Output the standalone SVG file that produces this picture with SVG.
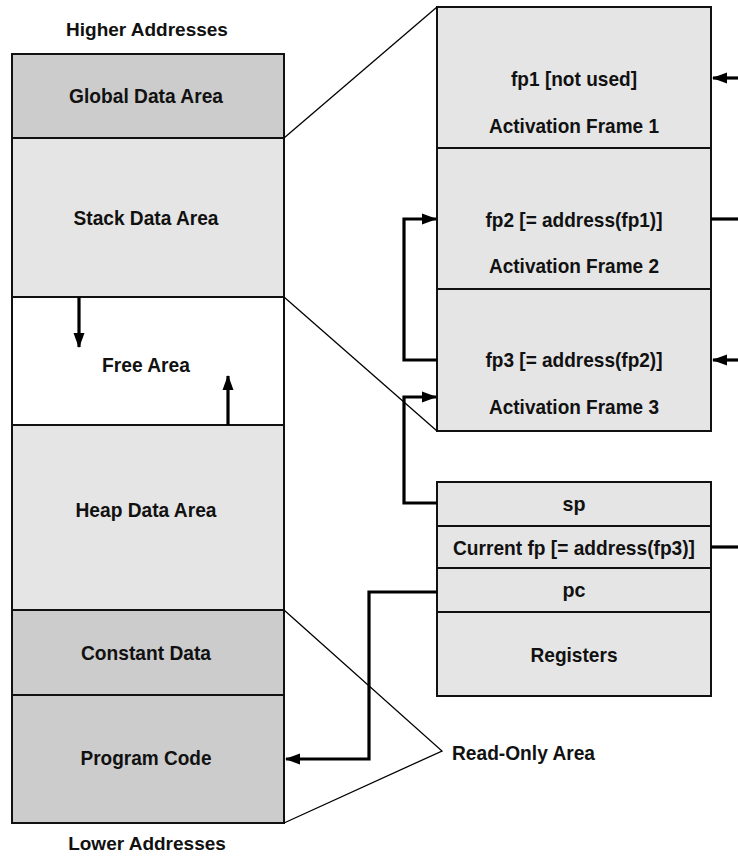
<svg xmlns="http://www.w3.org/2000/svg" width="738" height="857" viewBox="0 0 738 857">
<style>
text{font-family:"Liberation Sans",Arial,sans-serif;font-weight:bold;font-size:21px;fill:#111;text-anchor:middle}
.out{font-size:19px}
.dark{fill:#cccccc;stroke:#111;stroke-width:2}
.light{fill:#e5e5e5;stroke:#111;stroke-width:2}
.white{fill:#ffffff;stroke:#111;stroke-width:2}
.conn{fill:none;stroke:#000;stroke-width:3.2}
.thin{fill:none;stroke:#000;stroke-width:1.3}
</style>
<defs>
<marker id="ah" markerUnits="userSpaceOnUse" markerWidth="15" markerHeight="12" refX="14" refY="6" orient="auto">
<path d="M0,0.5 L15,6 L0,11.5 z" fill="#000"/>
</marker>
</defs>
<text class="out" x="147" y="36">Higher Addresses</text>
<text class="out" x="147" y="850">Lower Addresses</text>
<g id="global"><rect class="dark" x="12" y="54" width="272" height="84"/><text x="146" y="103" textLength="154" lengthAdjust="spacingAndGlyphs">Global Data Area</text></g>
<g id="stack"><rect class="light" x="12" y="138" width="272" height="159"/><text x="146" y="225" textLength="145" lengthAdjust="spacingAndGlyphs">Stack Data Area</text></g>
<g id="free"><rect class="white" x="12" y="297" width="272" height="128"/><text x="146" y="372" textLength="88" lengthAdjust="spacingAndGlyphs">Free Area</text></g>
<g id="heap"><rect class="light" x="12" y="425" width="272" height="185"/><text x="146" y="517" textLength="141" lengthAdjust="spacingAndGlyphs">Heap Data Area</text></g>
<g id="constant"><rect class="dark" x="12" y="610" width="272" height="85"/><text x="146" y="660" textLength="130" lengthAdjust="spacingAndGlyphs">Constant Data</text></g>
<g id="program"><rect class="dark" x="12" y="695" width="272" height="128"/><text x="146" y="765" textLength="131" lengthAdjust="spacingAndGlyphs">Program Code</text></g>
<g id="frame1"><rect class="light" x="437" y="7" width="274" height="141"/><text x="574" y="86" textLength="126" lengthAdjust="spacingAndGlyphs">fp1 [not used]</text><text x="574" y="133" textLength="170" lengthAdjust="spacingAndGlyphs">Activation Frame 1</text></g>
<g id="frame2"><rect class="light" x="437" y="148" width="274" height="141"/><text x="574" y="227" textLength="177" lengthAdjust="spacingAndGlyphs">fp2 [= address(fp1)]</text><text x="574" y="273" textLength="170" lengthAdjust="spacingAndGlyphs">Activation Frame 2</text></g>
<g id="frame3"><rect class="light" x="437" y="289" width="274" height="142"/><text x="574" y="367" textLength="177" lengthAdjust="spacingAndGlyphs">fp3 [= address(fp2)]</text><text x="574" y="414" textLength="170" lengthAdjust="spacingAndGlyphs">Activation Frame 3</text></g>
<g id="sp"><rect class="light" x="437" y="482" width="274" height="44"/><text x="574" y="511" textLength="23" lengthAdjust="spacingAndGlyphs">sp</text></g>
<g id="curfp"><rect class="light" x="437" y="526" width="274" height="42"/><text x="574" y="555" textLength="242" lengthAdjust="spacingAndGlyphs">Current fp [= address(fp3)]</text></g>
<g id="pc"><rect class="light" x="437" y="568" width="274" height="44"/><text x="574" y="597" textLength="23" lengthAdjust="spacingAndGlyphs">pc</text></g>
<g id="registers"><rect class="light" x="437" y="612" width="274" height="84"/><text x="574" y="662" textLength="87" lengthAdjust="spacingAndGlyphs">Registers</text></g>
<text x="452" y="760" style="text-anchor:start" textLength="143" lengthAdjust="spacingAndGlyphs">Read-Only Area</text>
<g id="connectors">
<path class="thin" d="M284,138 L437,7"/>
<path class="thin" d="M284,297 L437,431"/>
<path class="thin" d="M284,610 L442,751 L284,823"/>
<path class="conn" d="M79,297 V347" marker-end="url(#ah)"/>
<path class="conn" d="M228,425 V376" marker-end="url(#ah)"/>
<path class="conn" d="M437,360 H404 V219 H436" marker-end="url(#ah)"/>
<path class="conn" d="M437,503 H404 V397 H436" marker-end="url(#ah)"/>
<path class="conn" d="M437,592 H369 V759 H286" marker-end="url(#ah)"/>
<path class="conn" d="M738,78 H713" marker-end="url(#ah)"/>
<path class="conn" d="M738,360 H713" marker-end="url(#ah)"/>
<path class="conn" d="M711,219 H738"/>
<path class="conn" d="M711,547 H738"/>
</g>
</svg>
